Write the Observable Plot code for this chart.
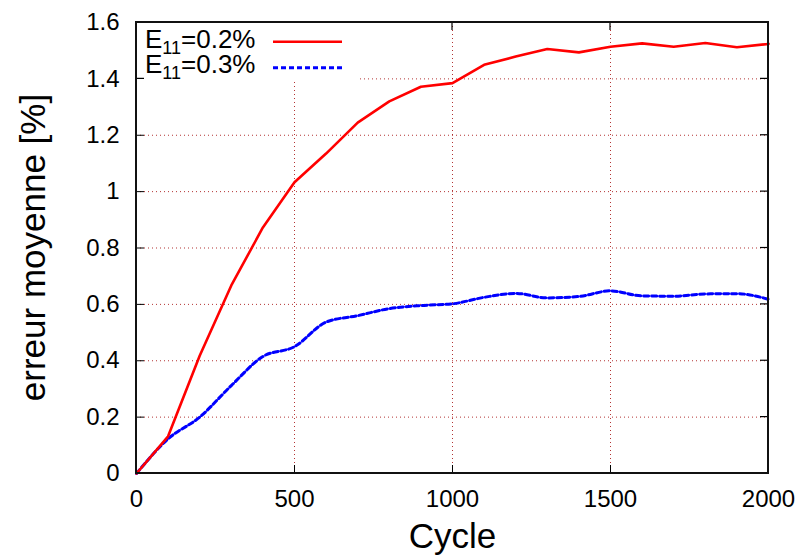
<!DOCTYPE html>
<html>
<head>
<meta charset="utf-8">
<script src="https://cdn.jsdelivr.net/npm/d3@7"></script>
<script src="https://cdn.jsdelivr.net/npm/@observablehq/plot@0.6"></script>
<style>
  html, body { margin: 0; padding: 0; background: #fff; overflow: hidden; }
  #chart svg { display: block; font-family: "Liberation Sans", Arial, sans-serif; }
</style>
</head>
<body>
<div id="chart"></div>
<script>
const cycles = [0,100,200,300,400,500,600,700,800,900,1000,1100,1200,1300,1400,1500,1600,1700,1800,1900,2000];
const e02 = [0,0.132,0.418,0.667,0.873,1.033,1.135,1.245,1.32,1.372,1.385,1.45,1.479,1.506,1.494,1.514,1.526,1.514,1.527,1.512,1.524];
const e03 = [0,0.123,0.2,0.312,0.415,0.45,0.537,0.56,0.585,0.596,0.602,0.625,0.639,0.623,0.628,0.648,0.630,0.629,0.637,0.638,0.618];
const xTicks = [0,500,1000,1500,2000];
const yTicks = [0,0.2,0.4,0.6,0.8,1,1.2,1.4,1.6];
const xLabel = "Cycle";
const yLabel = "erreur moyenne [%]";
const seriesNames = [["E","11","=0.2%"],["E","11","=0.3%"]];
const seriesColors = ["#ff0000","#0000ff"];

const d02 = cycles.map((c,i)=>({x:c,y:e02[i]}));
const d03 = cycles.map((c,i)=>({x:c,y:e03[i]}));
const fmt = d => String(+d.toFixed(1));
const gridStyle = {stroke:"#a00000", strokeOpacity:0.8, strokeDasharray:"1,3", strokeWidth:1};

const chart = Plot.plot({
  width: 803,
  height: 556,
  marginLeft: 136,
  marginRight: 35,
  marginTop: 22,
  marginBottom: 83,
  style: {overflow: "visible", maxWidth: "none"},
  x: {domain:[0,2000]},
  y: {domain:[0,1.6]},
  marks: [
    Plot.gridX(xTicks.slice(1,-1), gridStyle),
    Plot.gridY(yTicks.slice(1,-1), gridStyle),
    Plot.axisX(xTicks, {anchor:"bottom", tickSize:0, tickPadding:16, fontSize:24, tickFormat:fmt, label:null, fill:"#000"}),
    Plot.axisY(yTicks, {anchor:"left", tickSize:0, tickPadding:17, fontSize:24, tickFormat:fmt, label:null, fill:"#000"}),
    Plot.axisX(xTicks, {anchor:"bottom", tickSize:-8, tickFormat:()=>"", label:null, stroke:"#000"}),
    Plot.axisY(yTicks, {anchor:"left", tickSize:-8, tickFormat:()=>"", label:null, stroke:"#000"}),
    Plot.line(d03, {x:"x", y:"y", stroke:seriesColors[1], strokeWidth:3, strokeDasharray:"5,3", curve:"monotone-x"}),
    Plot.line(d02, {x:"x", y:"y", stroke:seriesColors[0], strokeWidth:2.6}),
    Plot.text([xLabel], {frameAnchor:"bottom", lineAnchor:"bottom", dy:74, fontSize:35, fill:"#000"})
  ]
});
document.getElementById("chart").appendChild(chart);

const svg = d3.select(chart);
const x = d3.scaleLinear().domain([0,2000]).range([136, 803-35]);
const y = d3.scaleLinear().domain([0,1.6]).range([556-83, 22]);
const X0 = x(0), X1 = x(2000), Y0 = y(0), Y1 = y(1.6);

// mirrored inward ticks on top and right edges
const tk = svg.append("g");
xTicks.forEach(v => tk.append("line").attr("x1",x(v)).attr("x2",x(v)).attr("y1",Y1).attr("y2",Y1+8).attr("stroke","#000").attr("stroke-width",1.2));
yTicks.forEach(v => tk.append("line").attr("y1",y(v)).attr("y2",y(v)).attr("x1",X1).attr("x2",X1-8).attr("stroke","#000").attr("stroke-width",1.2));

// y axis label
svg.append("text")
  .attr("transform", "translate(45,247.5) rotate(-90)")
  .attr("text-anchor", "middle")
  .attr("font-size", 35)
  .attr("fill", "#000")
  .text(yLabel);

// Legend (inside the plot, top-left, white box)
const g = svg.append("g").attr("class","legend").attr("text-anchor","start");
g.append("rect").attr("x",X0+1).attr("y",Y1+1).attr("width",220).attr("height",57).attr("fill","#fff");
const rows = [
  {name: seriesNames[0], color: seriesColors[0], dash: null, base: 48, ly: 41.7},
  {name: seriesNames[1], color: seriesColors[1], dash: "5,3", base: 72.7, ly: 67.7}
];
rows.forEach(r => {
  const t = g.append("text").attr("x",145).attr("y",r.base).attr("font-size",26).attr("fill","#000");
  t.append("tspan").text(r.name[0]);
  t.append("tspan").attr("font-size",18).attr("dy",6).text(r.name[1]);
  t.append("tspan").attr("dy",-6).text(r.name[2]);
  const ln = g.append("line").attr("x1",273).attr("x2",342).attr("y1",r.ly).attr("y2",r.ly)
    .attr("stroke",r.color).attr("stroke-width",r.dash?3:2.6);
  if (r.dash) ln.attr("stroke-dasharray", r.dash);
});
g.append("path").attr("d",`M${X0},${y(1.4)}h8`).attr("stroke","#000").attr("stroke-width",1.2);

// frame
svg.append("path")
  .attr("d", `M${X0},${Y0}H${X1}V${Y1}H${X0}Z`)
  .attr("fill","none").attr("stroke","#111").attr("stroke-width",2);
</script>
</body>
</html>
